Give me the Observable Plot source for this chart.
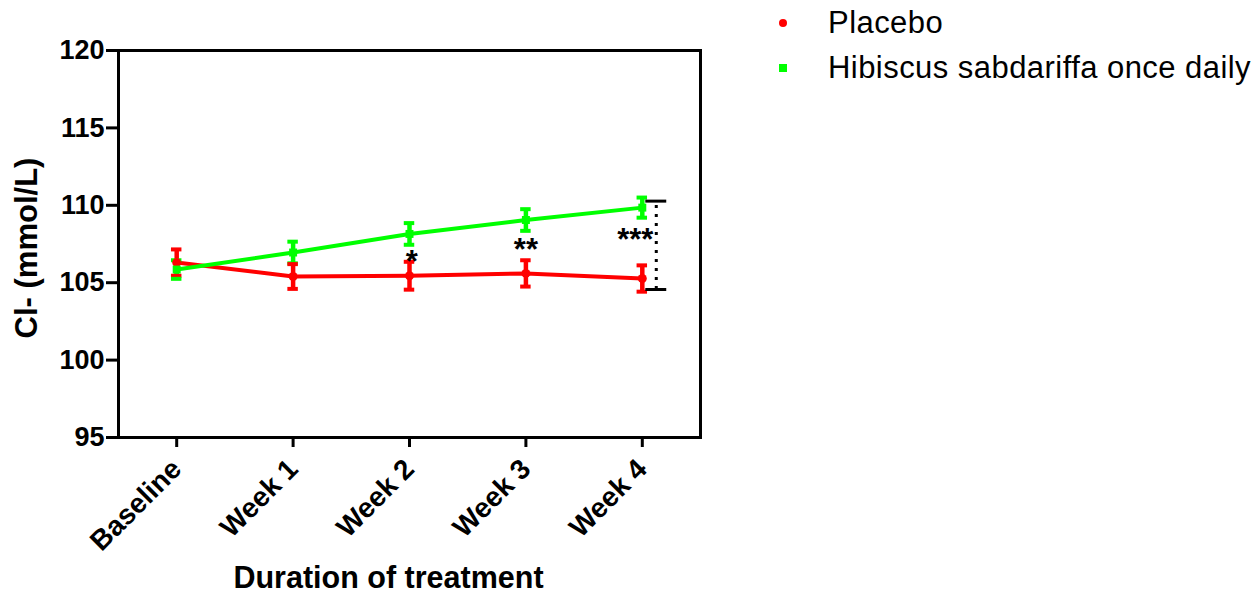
<!DOCTYPE html>
<html><head><meta charset="utf-8">
<script src="https://cdn.jsdelivr.net/npm/d3@7"></script>
<script src="https://cdn.jsdelivr.net/npm/@observablehq/plot@0.6"></script>
<style>
body{margin:0;background:#fff;font-family:"Liberation Sans",Arial,sans-serif;}
#wrap{position:relative;width:1260px;height:602px;overflow:hidden;}
#wrap svg{position:absolute;left:0;top:0;overflow:visible;}
.leg{position:absolute;left:828px;font-size:31px;letter-spacing:0.45px;color:#000;line-height:1;white-space:nowrap;}
.sym{position:absolute;width:8px;height:8px;}
</style></head><body><div id="wrap"></div>
<script>
// ---- data ----
const timepoints = ["Baseline", "Week 1", "Week 2", "Week 3", "Week 4"];
const placeboMean = [106.3, 105.4, 105.45, 105.6, 105.27];
const placeboErr = [0.85, 0.8, 0.9, 0.85, 0.85];
const hibiscusMean = [105.85, 106.95, 108.15, 109.05, 109.85];
const hibiscusErr = [0.6, 0.7, 0.7, 0.7, 0.65];
const seriesNames = ["Placebo", "Hibiscus sabdariffa once daily"];
const seriesColors = ["#ff0000", "#00ff00"];
const yTicks = [95, 100, 105, 110, 115, 120];
const starLabels = ["*", "**", "***"];
const starX = [2.02, 3.0, 3.94];
const starY = [106.76, 107.53, 108.18];
const bracketY = [110.27, 104.56];
const bracketX = [4.03, 4.21, 4.12];

// ---- build table ----
const rows = [];
[placeboMean, hibiscusMean].forEach((means, s) => {
  const errs = s === 0 ? placeboErr : hibiscusErr;
  means.forEach((m, i) => rows.push({i, series: seriesNames[s], color: seriesColors[s], mean: m, lo: m - errs[i], hi: m + errs[i], sym: s === 0 ? "circle" : "square"}));
});
const stars = starLabels.map((t, k) => ({t, x: starX[k], y: starY[k]}));

const capHalf = 0.045;
const plot = Plot.plot({
  width: 1260, height: 602,
  marginLeft: 118, marginRight: 560, marginTop: 50, marginBottom: 165,
  style: {fontFamily: "'Liberation Sans', Arial, sans-serif", color: "#000", background: "transparent"},
  x: {type: "linear", domain: [-0.5, 4.5]},
  y: {domain: [95, 120]},
  marks: [
    Plot.frame({stroke: "#000", strokeWidth: 3}),
    Plot.axisY({ticks: yTicks, tickSize: 12, tickPadding: 2, fontSize: 27, fontWeight: "bold", strokeWidth: 3, label: null, tickFormat: d => d}),
    Plot.axisX({ticks: timepoints.map((_, i) => i), tickFormat: i => timepoints[i], tickRotate: -45, tickSize: 10, tickPadding: 17, fontSize: 28, fontWeight: "bold", strokeWidth: 3, label: null}),
    Plot.text(["Duration of treatment"], {frameAnchor: "bottom", dx: -21, dy: 150, fontSize: 30.5, fontWeight: "bold", fill: "#000"}),
    Plot.text(["Cl- (mmol/L)"], {frameAnchor: "left", textAnchor: "middle", dx: -91, dy: 4, rotate: -90, fontSize: 31, fontWeight: "bold", fill: "#000"}),
    // lines
    Plot.line(rows, {x: "i", y: "mean", z: "series", stroke: "color", strokeWidth: 4}),
    // error bars
    Plot.ruleX(rows, {x: "i", y1: "lo", y2: "hi", stroke: "color", strokeWidth: 4.5}),
    Plot.ruleY(rows, {y: "lo", x1: d => d.i - capHalf, x2: d => d.i + capHalf, stroke: "color", strokeWidth: 4}),
    Plot.ruleY(rows, {y: "hi", x1: d => d.i - capHalf, x2: d => d.i + capHalf, stroke: "color", strokeWidth: 4}),
    Plot.dot(rows, {x: "i", y: "mean", fill: "color", symbol: "sym", r: 4.5}),
    // significance
    Plot.ruleY(bracketY, {x1: bracketX[0], x2: bracketX[1], stroke: "#000", strokeWidth: 3}),
    Plot.ruleX([bracketX[2]], {y1: bracketY[1], y2: bracketY[0], stroke: "#000", strokeWidth: 3, strokeDasharray: "3,6"}),
    Plot.text(stars, {x: "x", y: "y", text: "t", dy: 7, fontSize: 31, fontWeight: "bold", fill: "#000"})
  ]
});
const wrap = document.getElementById("wrap");
wrap.appendChild(plot);

// legend
const legY = [23, 68];
seriesNames.forEach((name, s) => {
  const sym = document.createElement("div");
  sym.className = "sym";
  sym.style.left = (783 - 4) + "px";
  sym.style.top = (legY[s] - 4) + "px";
  sym.style.background = seriesColors[s];
  if (s === 0) sym.style.borderRadius = "50%";
  wrap.appendChild(sym);
  const t = document.createElement("div");
  t.className = "leg";
  t.textContent = name;
  t.style.top = (legY[s] - 16) + "px";
  wrap.appendChild(t);
});
</script></body></html>
